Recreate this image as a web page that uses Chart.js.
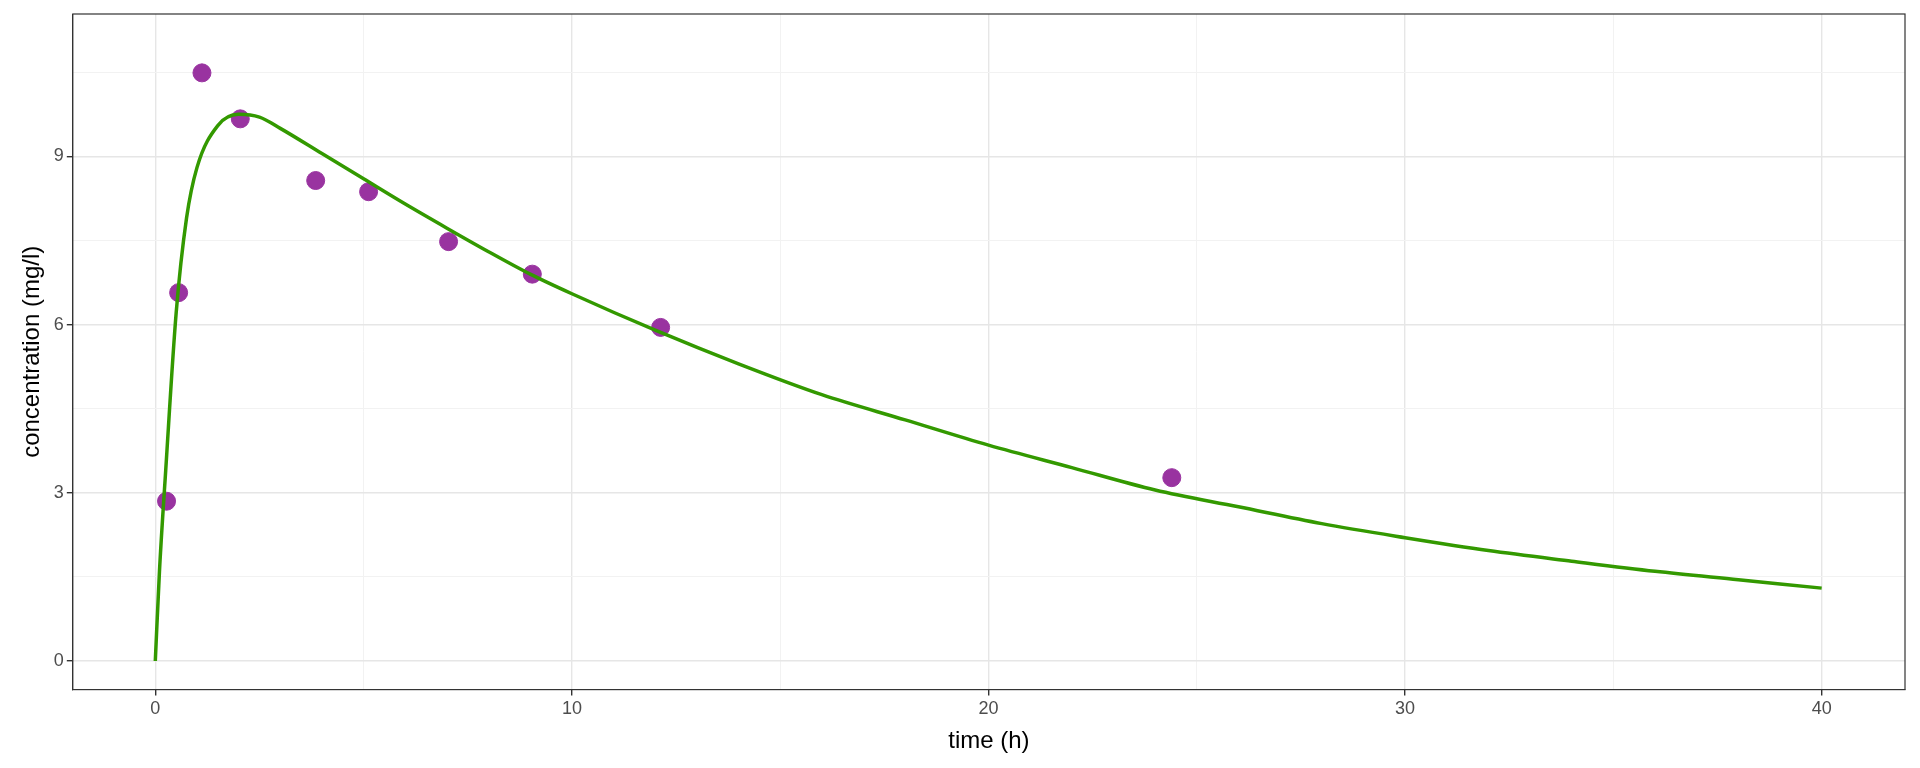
<!DOCTYPE html>
<html><head><meta charset="utf-8">
<script src="https://cdn.jsdelivr.net/npm/chart.js@4"></script>
<style>html,body{margin:0;background:#fff}#w{width:1920px;height:768px}</style>
</head><body><div id="w"><canvas id="c"></canvas></div>
<script>
const obsTime=[0.27,0.56,1.12,2.04,3.85,5.12,7.04,9.05,12.13,24.4];
const obsConc=[2.85,6.57,10.49,9.67,8.57,8.37,7.48,6.90,5.95,3.27];
const fitTime=[0,0.1,0.25,0.5,0.75,1,1.5,2,2.5,3,4,5,6,7,8,9,10,12,14,16,18,20,22,24,26,28,30,32,34,36,38,40];
const fitConc=[0,1.6,3.4,6.2,7.9,8.8,9.55,9.75,9.7,9.5,9.05,8.6,8.15,7.72,7.3,6.9,6.55,5.9,5.3,4.75,4.3,3.85,3.45,3.05,2.75,2.45,2.2,1.97,1.78,1.6,1.45,1.3];
const xTicks=[0,5,10,15,20,25,30,35,40];
const yTicks=[0,1.5,3,4.5,6,7.5,9,10.5];
const box={id:'box',afterDraw(c){const a=c.chartArea,x=c.ctx;x.save();x.strokeStyle='#333';x.lineWidth=1.2;x.strokeRect(a.left,a.top,a.right-a.left,a.bottom-a.top);x.restore();}};
new Chart(document.getElementById('c'),{
type:'scatter',
data:{datasets:[
{data:obsTime.map((t,i)=>({x:t,y:obsConc[i]})),backgroundColor:'#9933a0',borderColor:'#9933a0',pointRadius:9,order:2},
{data:fitTime.map((t,i)=>({x:t,y:fitConc[i]})),showLine:true,borderColor:'#339900',borderWidth:3.5,pointRadius:0,cubicInterpolationMode:'monotone',order:1}
]},
options:{responsive:true,maintainAspectRatio:false,animation:false,
layout:{padding:{left:14,right:15,top:14,bottom:8}},
plugins:{legend:{display:false},tooltip:{enabled:false}},
scales:{
x:{min:-1.98,max:42,afterBuildTicks:s=>{s.ticks=xTicks.map(v=>({value:v}))},
 grid:{color:c=>c.tick&&c.tick.value%10===0?'#e6e6e6':'#f2f2f2',lineWidth:c=>c.tick&&c.tick.value%10===0?1.4:1,tickColor:c=>c.tick&&c.tick.value%10===0?'#333':'rgba(0,0,0,0)',tickLength:6},
 border:{color:'#333'},
 ticks:{color:'#4d4d4d',font:{size:18,family:'Liberation Sans'},autoSkip:false,maxRotation:0,callback:v=>v%10===0?v:''},
 title:{display:true,text:'time (h)',color:'#000',font:{size:24,family:'Liberation Sans'}}},
y:{min:-0.51,max:11.54,afterBuildTicks:s=>{s.ticks=yTicks.map(v=>({value:v}))},
 grid:{color:c=>c.tick&&c.tick.value%3===0?'#e6e6e6':'#f2f2f2',lineWidth:c=>c.tick&&c.tick.value%3===0?1.4:1,tickColor:c=>c.tick&&c.tick.value%3===0?'#333':'rgba(0,0,0,0)',tickLength:6},
 border:{color:'#333'},
 ticks:{color:'#4d4d4d',font:{size:18,family:'Liberation Sans'},autoSkip:false,callback:v=>v%3===0?v:''},
 title:{display:true,text:'concentration (mg/l)',color:'#000',font:{size:24,family:'Liberation Sans'}}}
}},
plugins:[box]});
</script></body></html>
